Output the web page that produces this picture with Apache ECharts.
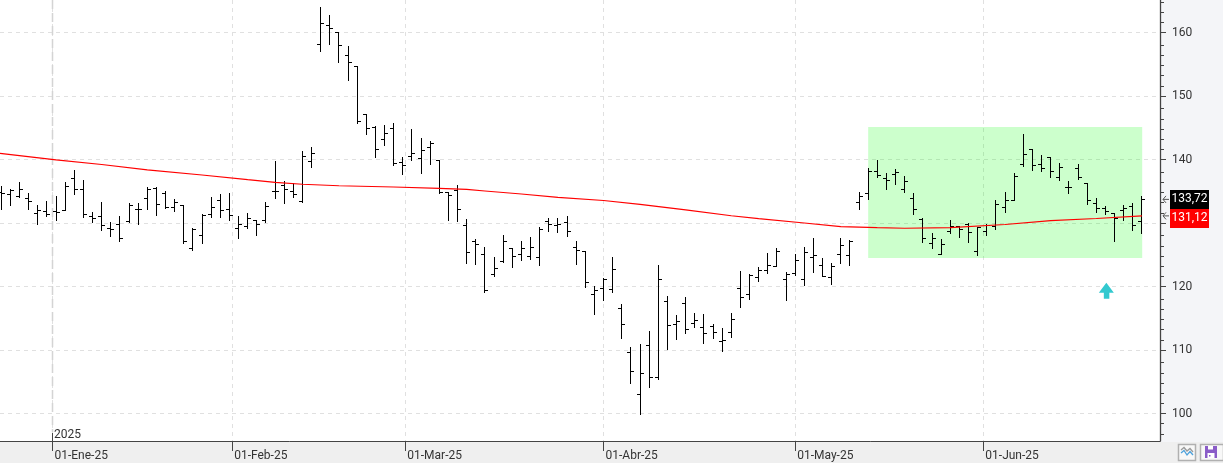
<!DOCTYPE html>
<html>
<head>
<meta charset="utf-8">
<style>html,body{margin:0;padding:0;background:#fff}#chart{width:1223px;height:463px}</style>
<script src="https://cdn.jsdelivr.net/npm/echarts@6/dist/echarts.min.js"></script>
</head>
<body>
<div id="chart"></div>
<script>
// Daily OHLC prices, one entry per trading session
const opens = [134.80,134.52,134.25,133.89,131.42,131.78,131.84,132.00,137.04,135.31,131.06,131.06,129.17,129.73,130.20,132.05,133.89,135.51,134.72,132.47,132.68,126.02,128.06,131.31,133.58,132.16,129.17,129.42,130.36,130.43,134.99,135.87,134.99,133.31,139.72,158.14,161.13,160.03,156.41,154.57,147.01,145.01,143.18,144.91,139.56,140.55,140.19,141.92,139.92,134.83,135.04,129.64,127.12,125.07,121.92,123.97,126.02,125.07,124.76,124.60,130.27,129.64,130.11,126.17,125.54,118.77,119.72,119.56,116.57,109.64,103.02,110.74,105.70,117.67,114.05,117.36,114.21,113.56,113.73,111.37,112.79,119.72,118.77,121.45,122.55,123.18,121.14,122.02,121.14,124.49,123.34,121.39,125.07,124.92,133.26,134.68,138.14,137.04,137.67,135.31,133.89,130.58,126.80,125.07,128.63,129.48,129.80,125.54,128.69,129.42,132.47,133.58,139.24,141.61,139.24,140.35,137.20,135.62,138.61,136.25,133.04,132.32,131.47,131.94,132.57,130.20];
const highs = [135.72,135.20,136.30,134.57,132.68,133.31,134.25,136.41,138.19,136.77,131.73,133.15,130.11,131.10,133.10,133.04,135.62,135.62,134.99,133.73,132.73,129.06,131.31,134.05,134.41,134.57,130.99,131.53,130.47,133.26,139.61,136.46,136.25,141.29,141.92,163.97,162.60,160.03,157.83,154.61,147.12,145.23,145.28,145.70,140.24,144.80,143.23,142.87,139.92,134.83,135.94,130.58,127.43,126.17,124.49,128.06,126.02,127.12,127.75,129.32,130.74,130.74,131.06,127.12,125.54,120.03,121.29,124.60,117.20,110.43,110.90,112.99,123.38,118.46,115.47,118.30,115.78,115.62,114.05,113.42,115.78,122.39,121.92,123.02,125.23,126.02,122.24,125.07,126.17,127.59,124.44,123.65,127.59,127.21,134.83,138.61,139.92,137.83,138.50,137.35,134.68,130.74,128.38,127.43,130.43,129.48,129.95,129.32,129.80,133.58,134.83,137.83,143.97,141.61,140.66,140.35,139.40,136.57,139.24,136.25,133.89,132.63,131.47,132.79,133.10,134.20];
const lows = [132.16,132.73,134.09,132.16,129.73,131.10,130.36,131.94,134.41,130.84,130.05,128.79,127.95,127.06,130.05,129.73,132.16,131.15,132.21,131.84,126.80,125.64,126.74,130.90,130.84,130.47,127.53,129.06,128.00,130.11,133.83,133.10,133.99,133.26,138.71,156.98,158.08,155.24,152.41,145.64,143.86,140.28,142.17,139.02,137.56,139.81,137.72,139.18,134.68,130.36,130.20,123.59,123.43,119.03,121.54,123.81,122.96,124.06,124.33,123.28,128.63,128.47,127.84,123.43,119.81,115.56,117.76,119.03,111.78,104.69,99.81,104.06,105.32,110.05,111.62,112.57,113.51,110.99,111.78,109.73,111.94,116.66,117.92,120.75,121.97,123.12,117.87,121.76,120.13,122.17,121.54,120.28,123.59,123.28,132.09,133.67,137.09,135.20,136.14,134.88,131.26,126.90,125.95,125.01,128.38,127.69,126.90,124.91,128.00,128.95,131.62,133.58,138.93,138.30,138.14,137.20,136.72,134.61,136.88,132.88,131.62,131.31,127.06,130.36,128.79,128.32];
const closes = [134.68,135.04,135.35,133.42,131.89,131.31,131.62,135.72,135.31,131.37,130.74,129.64,128.90,127.59,132.68,132.16,135.20,132.99,132.41,133.26,127.06,129.01,131.21,132.47,131.89,131.15,129.84,130.67,129.69,132.57,134.99,135.31,134.46,140.55,140.98,161.45,160.66,157.98,155.31,146.02,144.91,141.61,144.13,139.40,138.98,140.98,141.45,142.55,134.88,134.36,132.16,125.39,126.65,119.34,122.87,127.01,124.65,126.02,126.17,128.90,129.80,129.80,128.63,125.70,120.66,119.40,121.14,122.71,114.05,106.65,106.33,105.70,121.14,113.89,114.52,113.26,114.68,112.63,112.79,111.53,114.83,118.30,121.76,122.55,123.34,125.59,121.92,124.11,125.28,124.85,121.61,123.18,126.49,127.12,134.20,138.14,137.51,136.72,137.98,136.57,132.16,127.59,127.59,126.65,129.42,128.95,128.47,129.26,129.64,132.88,133.58,137.35,140.71,139.09,138.61,138.14,138.77,135.62,137.20,133.51,132.25,131.78,130.67,132.25,129.58,133.72];

// Long moving average, sampled at the session positions below
const maSessions = [-0.14,6,11,16,22,27,30,33,37,43,48,51,53,57,61,66,70,75,80,83,88,92,96,99,104,110,115,120,125];
const maValues = [140.98,139.95,139.21,138.38,137.56,136.82,136.41,136.10,135.87,135.67,135.46,135.28,135.04,134.57,134.05,133.54,132.94,132.08,131.14,130.68,130.00,129.42,129.26,129.17,129.26,129.76,130.36,130.71,131.12];

// Month boundaries on the session scale, with their labels
const monthTicks = [5.61,25.3,44.27,66,87,107.62];
const monthLabels = ['01-Ene-25','01-Feb-25','01-Mar-25','01-Abr-25','01-May-25','01-Jun-25'];
const yearLabel = '2025';

// Price axis marks
const priceTicks = [100,110,120,130,140,150,160];
const minorPriceTicks = [96.8,98.4,101.6,103.2,104.8,106.4,108,111.6,113.2,114.8,116.4,118,121.6,123.2,124.8,126.4,128,131.6,133.2,134.8,136.4,138,141.6,143.2,144.8,146.4,148,151.6,153.2,154.8,156.4,158,161.6,163.2,164.8];

// Highlighted consolidation zone and signal arrow
const zoneSessions = [95,125.03];
const zonePrices = [145.12,124.49];
const signalPoint = [121.1,119.35];

// Last values shown as tags beside the price axis
const lastValues = [133.72,131.12];
const lastColors = ['#000000','#ff0000'];

const bars = opens.map((o, i) => [i, o, highs[i], lows[i], closes[i]]);
const maLine = maSessions.map((s, i) => [s, maValues[i]]);

const axisColor = '#444444';
const gridColor = '#e0e0e0';
const font = 'Roboto, "Open Sans", sans-serif';

function renderBar(params, api) {
  const i = api.value(0);
  const x = Math.floor(api.coord([i, 0])[0]);
  const rowOf = v => Math.floor(api.coord([i, v])[1]);
  const top = rowOf(api.value(2));
  const bottom = rowOf(api.value(3));
  const fill = { fill: '#000' };
  return {
    type: 'group',
    children: [
      { type: 'rect', shape: { x: x, y: top, width: 1, height: bottom - top + 1 }, style: fill },
      { type: 'rect', shape: { x: x - 3, y: rowOf(api.value(1)), width: 3, height: 1 }, style: fill },
      { type: 'rect', shape: { x: x + 1, y: rowOf(api.value(4)), width: 3, height: 1 }, style: fill }
    ]
  };
}

function renderYearMarker(params, api) {
  const x = Math.floor(api.coord([api.value(0), 0])[0]) + 0.5;
  const sys = params.coordSys;
  const bottom = sys.y + sys.height;
  return {
    type: 'group',
    children: [
      { type: 'line', shape: { x1: x, y1: 0, x2: x, y2: bottom - 9 },
        style: { stroke: '#d4d4d4', lineWidth: 1.5, lineDash: [9, 4] } },
      { type: 'line', shape: { x1: x, y1: bottom - 8, x2: x, y2: bottom },
        style: { stroke: axisColor, lineWidth: 1 } },
      { type: 'text', x: x + 1.5, y: bottom - 6,
        style: { text: yearLabel, fill: '#333', font: '12px ' + font, textVerticalAlign: 'middle' } }
    ]
  };
}

function renderLastTag(params, api) {
  const idx = params.dataIndex;
  const sys = params.coordSys;
  const boxH = 19;
  const yOf = k => api.coord([0, lastValues[k]])[1];
  const y = yOf(idx);
  // Tags stack downwards so that neighbouring values stay readable
  let boxY = yOf(0) - boxH / 2;
  if (idx > 0) boxY = Math.max(y - boxH / 2, boxY + boxH);
  const left = sys.x + sys.width;
  const stroke = { stroke: '#555', lineWidth: 1, fill: null };
  return {
    type: 'group',
    children: [
      { type: 'polyline', shape: { points: [[left + 6, y - 3.5], [left + 3, y], [left + 6, y + 3.5]] }, style: stroke },
      { type: 'line', shape: { x1: left + 3, y1: y, x2: left + 9, y2: y }, style: stroke },
      { type: 'rect', shape: { x: left + 10, y: boxY, width: 39, height: boxH },
        style: { fill: lastColors[idx] } },
      { type: 'text', x: left + 29.5, y: boxY + boxH / 2,
        style: { text: lastValues[idx].toFixed(2).replace('.', ','), fill: '#fff',
          font: '12px ' + font, textAlign: 'center', textVerticalAlign: 'middle' } }
    ]
  };
}

const chart = echarts.init(document.getElementById('chart'), null, { renderer: 'canvas' });
chart.setOption({
  animation: false,
  backgroundColor: '#ffffff',
  grid: { left: 0, right: 63, top: 0, bottom: 22, containLabel: false },
  xAxis: {
    type: 'value',
    min: -1.3 / 9.125,
    max: 1158.7 / 9.125,
    axisLine: { show: true, onZero: false, lineStyle: { color: axisColor, width: 1 } },
    axisTick: { show: true, length: 10, customValues: monthTicks, lineStyle: { color: axisColor } },
    axisLabel: {
      show: true,
      customValues: monthTicks,
      align: 'left',
      margin: 9,
      padding: [0, 0, 0, 2],
      color: '#333',
      fontFamily: font,
      fontSize: 12,
      formatter: v => monthLabels[monthTicks.indexOf(v)] || ''
    },
    splitLine: { show: true, lineStyle: { color: gridColor, type: [4, 4], width: 1 } }
  },
  yAxis: [
    {
      type: 'value',
      position: 'right',
      min: 100 - 27.5 / 6.35,
      max: 100 + 413.5 / 6.35,
      axisLine: { show: true, onZero: false, lineStyle: { color: axisColor, width: 1.3 } },
      axisTick: { show: true, length: 6, customValues: priceTicks, lineStyle: { color: axisColor } },
      axisLabel: {
        show: true,
        customValues: priceTicks,
        margin: 12,
        padding: [1, 0, 0, 0],
        color: '#333',
        fontFamily: font,
        fontSize: 12
      },
      splitLine: { show: true, lineStyle: { color: gridColor, type: [4, 4], width: 1 } }
    },
    {
      type: 'value',
      position: 'right',
      min: 100 - 27.5 / 6.35,
      max: 100 + 413.5 / 6.35,
      axisLine: { show: false, onZero: false },
      axisTick: { show: true, length: 4, customValues: minorPriceTicks, lineStyle: { color: axisColor } },
      axisLabel: { show: false },
      splitLine: { show: false }
    }
  ],
  graphic: [
    { type: 'rect', z: -10, silent: true, shape: { x: 0, y: 442, width: 1223, height: 21 }, style: { fill: '#efefef' } },
    { type: 'rect', z: -10, silent: true, shape: { x: 1161, y: 0, width: 62, height: 442 }, style: { fill: '#f4f5f8' } },
    // Toolbar buttons in the lower right corner
    { type: 'rect', z: 20, silent: true, shape: { x: 1178.5, y: 444.5, width: 17, height: 16 }, style: { fill: '#f8f8f8', stroke: '#b0b0b0', lineWidth: 1.5 } },
    { type: 'polyline', z: 21, silent: true, shape: { points: [[1181, 450], [1184, 447.5], [1187, 451], [1190, 448.5], [1193, 452]] }, style: { stroke: '#9a9a9a', fill: null, lineWidth: 1.3 } },
    { type: 'polyline', z: 21, silent: true, shape: { points: [[1181, 453], [1184, 450.5], [1187, 455], [1190, 451.5], [1193, 455]] }, style: { stroke: '#4ea2dc', fill: null, lineWidth: 1.3 } },
    { type: 'rect', z: 20, silent: true, shape: { x: 1200.5, y: 444.5, width: 23, height: 16 }, style: { fill: '#f8f8f8', stroke: '#b0b0b0', lineWidth: 1.5 } },
    { type: 'rect', z: 21, silent: true, shape: { x: 1205, y: 446, width: 12, height: 12 }, style: { fill: '#8a5cc8' } },
    { type: 'rect', z: 22, silent: true, shape: { x: 1208, y: 446, width: 5, height: 3.5 }, style: { fill: '#ffffff' } },
    { type: 'rect', z: 22, silent: true, shape: { x: 1207.5, y: 453, width: 7, height: 5 }, style: { fill: '#ffffff' } },
    { type: 'rect', z: 23, silent: true, shape: { x: 1209, y: 455, width: 1.5, height: 1.5 }, style: { fill: '#8a5cc8' } }
  ],
  series: [
    {
      name: 'Zone',
      type: 'line',
      data: [],
      silent: true,
      markArea: {
        silent: true,
        itemStyle: { color: 'rgba(0,255,0,0.2)', borderWidth: 0 },
        data: [[{ xAxis: zoneSessions[0], yAxis: zonePrices[0] }, { xAxis: zoneSessions[1], yAxis: zonePrices[1] }]]
      }
    },
    {
      name: 'Year',
      type: 'custom',
      silent: true,
      clip: false,
      z: 1,
      renderItem: renderYearMarker,
      encode: { x: 0, y: 1 },
      data: [[monthTicks[0], 100]]
    },
    {
      name: 'Price',
      type: 'custom',
      silent: true,
      z: 3,
      renderItem: renderBar,
      encode: { x: 0, y: [1, 2, 3, 4] },
      data: bars
    },
    {
      name: 'Average',
      type: 'line',
      silent: true,
      z: 4,
      showSymbol: false,
      symbol: 'none',
      lineStyle: { color: '#ff0000', width: 1.2 },
      data: maLine
    },
    {
      name: 'Signal',
      type: 'scatter',
      silent: true,
      z: 5,
      symbol: 'path://M7.5 0L15 10H10.5V16H5V10H0Z',
      symbolSize: [15, 16],
      itemStyle: { color: '#33c9cf', opacity: 1 },
      data: [signalPoint]
    },
    {
      name: 'Last',
      type: 'custom',
      silent: true,
      clip: false,
      z: 6,
      renderItem: renderLastTag,
      encode: { x: 0, y: 1 },
      data: lastValues.map(v => [125, v])
    }
  ]
});
</script>
</body>
</html>
